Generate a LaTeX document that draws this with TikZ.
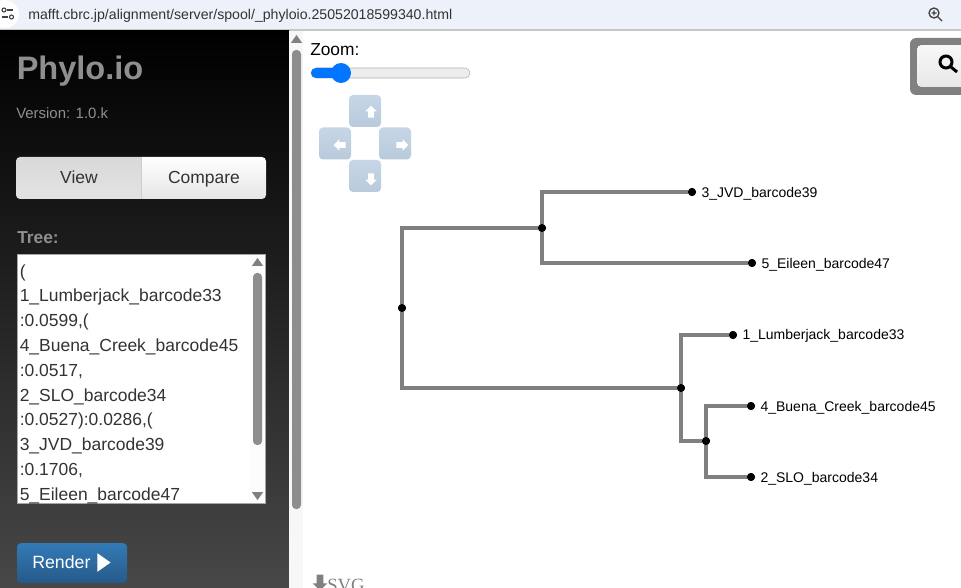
\documentclass[tikz,border=0pt]{standalone}
\usepackage{fontspec}
\setmainfont{Liberation Sans}
\newfontfamily\myserif{Liberation Serif}
\usepackage{tikz}
\usetikzlibrary{shapes,arrows}
\usetikzlibrary{positioning}
\definecolor{mygray}{RGB}{128,128,128}
\definecolor{mytitle}{RGB}{143,143,143}
\definecolor{mybar}{RGB}{237,242,250}
\definecolor{myblue}{RGB}{0,117,255}
\definecolor{myink}{RGB}{51,51,51}
\definecolor{mybtntop}{RGB}{198,214,231}
\definecolor{mybtnbot}{RGB}{184,202,219}
\definecolor{myrendertop}{RGB}{51,122,183}
\definecolor{myrenderbot}{RGB}{38,90,136}
\newcommand\mypx[1]{\fontsize{#1}{#1}\selectfont}
\newcommand\mytip[4]{%
  \node[mydot] (#1) at (#2) {};
  \node[mylabel,right=5 of #1,yshift=-1pt] (#1text) {#3};
  \draw[mybranch] (#4) |- (#1);
}
\newcommand\myarrowbtn[4]{%
  \node[mybtn] (#1) at (#2) {};
  \node[myarrow,rotate=#3] (#1head) at (#4) {};
}
\begin{document}
\begin{tikzpicture}[x=0.75pt,y=-0.75pt,
mydot/.style={circle,fill=black,inner sep=0pt,minimum size=6pt},
mylabel/.style={inner sep=0pt,font=\mypx{10.5},text=black},
mybranch/.style={draw=mygray,line width=2.4pt},
mybtn/.style={rectangle,rounded corners=3pt,inner sep=0pt,minimum size=24pt,top color=mybtntop,bottom color=mybtnbot},
myarrow/.style={single arrow,fill=white,inner xsep=0pt,inner ysep=1.9pt,minimum height=9pt,minimum width=8.5pt,single arrow head extend=2.3pt,single arrow tip angle=90},
mytext/.style={inner sep=0pt,anchor=base west},
mybtntext/.style={inner sep=0pt,anchor=base,font=\mypx{13.1},text=myink},
mytri/.style={isosceles triangle,isosceles triangle apex angle=70,fill=mygray,inner sep=0pt,minimum size=6pt}
]
\useasboundingbox (0,0) rectangle (961,588);
\fill[white] (0,0) rectangle (961,588);

% address bar
\fill[mybar] (0,0) rectangle (961,29);
\fill[black!22] (0,29) rectangle (961,31);
\node[circle,fill=white,minimum size=21pt,inner sep=0pt] (tune) at (5,14) {};
\draw[black!75,line width=0.8pt] (7,10) -- (13,10) (2,17) -- (8,17);
\draw[black!75,line width=0.8pt] (4,10) circle (2) (11.5,17) circle (2);
\node[mytext,font=\mypx{10.6},text=black!80] (url) at (28,19.5) {mafft.cbrc.jp/alignment/server/spool/\_phyloio.25052018599340.html};
\draw[black!75,line width=1pt] (934,13) circle (5) (938,17) -- (942,21) (931.5,13) -- (936.5,13) (934,10.5) -- (934,15.5);

% left panel
\fill[top color=black,bottom color=black!72] (0,31) rectangle (289,588);
\node[mytext,font=\bfseries\mypx{24.4},text=mytitle] (title) at (16.5,80) {Phylo.io};
\node[mytext,font=\mypx{11.2},text=mytitle] (version) at (16,119) {Version: 1.0.k};

\fill[top color=black!15,bottom color=black!11] (141,157) [rounded corners=3pt] -- (16,157) -- (16,199) [sharp corners] -- (141,199) -- cycle;
\fill[top color=white,bottom color=black!10] (141,157) [rounded corners=3pt] -- (266,157) -- (266,199) [sharp corners] -- (141,199) -- cycle;
\draw[black!20] (141,157) -- (141,199);
\node[mybtntext] (view) at (79,183.5) {View};
\node[mybtntext] (compare) at (204,183.5) {Compare};

\node[mytext,font=\bfseries\mypx{13},text=mytitle] (treelabel) at (17,244) {Tree:};

% newick box
\fill[white] (17,254) rectangle (265,503);
\draw[black!35,line width=0.5pt] (17,254) rectangle (265,503);
\fill[black!1] (250,255) rectangle (265,502);
\fill[mygray!90,rounded corners=3pt] (253,273) rectangle (262,445);
\node[mytri,shape border rotate=90] (boxup) at (257.5,263) {};
\node[mytri,shape border rotate=270] (boxdown) at (257.5,495) {};
\begin{scope}[font=\mypx{13.1},text=myink]
\foreach \y/\mytxt in {277/(,
301/1\_Lumberjack\_barcode33,
326/{:0.0599,(},
351/4\_Buena\_Creek\_barcode45,
376/{:0.0517,},
401/2\_SLO\_barcode34,
425/{:0.0527):0.0286,(},
450/3\_JVD\_barcode39,
475/{:0.1706,}}
  \node[mytext] at (19.5,\y) {\mytxt};
\clip (17,254) rectangle (265,503);
\node[mytext] (lastline) at (19.5,500) {5\_Eileen\_barcode47};
\end{scope}

% render button
\node[rectangle,rounded corners=3pt,minimum width=82.5pt,minimum height=30pt,inner sep=0pt,top color=myrendertop,bottom color=myrenderbot] (render) at (72,563) {};
\node[mytext,font=\mypx{13.3},text=white] (rendertext) at (32,568) {Render};
\node[isosceles triangle,isosceles triangle apex angle=70,fill=white,inner sep=0pt,minimum height=10pt,minimum width=12.5pt,anchor=west] (renderhead) at (97,562.5) {};

% main scrollbar
\fill[black!3] (289,31) rectangle (303,588);
\fill[mygray!90,rounded corners=3pt] (292,50) rectangle (301,509);
\node[mytri,shape border rotate=90] (mainup) at (296.5,40) {};

% zoom controls
\node[mytext,font=\mypx{13},text=black] (zoomlabel) at (310,56) {Zoom:};
\fill[black!7,rounded corners=3.75pt] (311,68) rectangle (470,78);
\draw[black!30,rounded corners=3.75pt] (311,68) rectangle (470,78);
\fill[myblue,rounded corners=3.75pt] (311,68) rectangle (345,78);
\node[circle,fill=myblue,inner sep=0pt,minimum size=15pt] (thumb) at (341,73) {};

\myarrowbtn{btnup}{365,111}{90}{371,113}
\myarrowbtn{btnleft}{335,143.5}{180}{341,145}
\myarrowbtn{btnright}{395,143.5}{0}{401,145}
\myarrowbtn{btndown}{365,176}{270}{371,178}

% search box
\fill[mygray,rounded corners=4.5pt] (910,38) rectangle (975,95);
\fill[top color=black!3,bottom color=black!9,rounded corners=3pt] (917,45) rectangle (975,87);
\draw[black,line width=2.25pt] (946,62) circle (6) (951,67) -- (957,72);

% tree
\node[mydot] (root) at (402,308) {};
\node[mydot] (jvdeileen) at (542,228) {};
\node[mydot] (lumber) at (681,388) {};
\node[mydot] (buenaslo) at (706,441) {};
\draw[mybranch] (root) |- (jvdeileen);
\draw[mybranch] (root) |- (lumber);
\draw[mybranch] (lumber) |- (buenaslo);
\mytip{jvd}{692,192}{3\_JVD\_barcode39}{jvdeileen}
\mytip{eileen}{752,263}{5\_Eileen\_barcode47}{jvdeileen}
\mytip{lumberjack}{733,335}{1\_Lumberjack\_barcode33}{lumber}
\mytip{buena}{751,406}{4\_Buena\_Creek\_barcode45}{buenaslo}
\mytip{slo}{751,477}{2\_SLO\_barcode34}{buenaslo}
\foreach \mydotname in {root,jvdeileen,lumber,buenaslo,jvd,eileen,lumberjack,buena,slo}
  \fill (\mydotname) circle (3pt);

% svg link
\node[single arrow,fill=mygray,rotate=270,inner xsep=0pt,inner ysep=2.2pt,minimum height=12pt,minimum width=11pt,single arrow head extend=3pt,single arrow tip angle=90] (svghead) at (320,581) {};
\node[mytext,font=\myserif\mypx{14},text=mygray] (svgtext) at (327,591) {SVG};
\end{tikzpicture}
\end{document}
